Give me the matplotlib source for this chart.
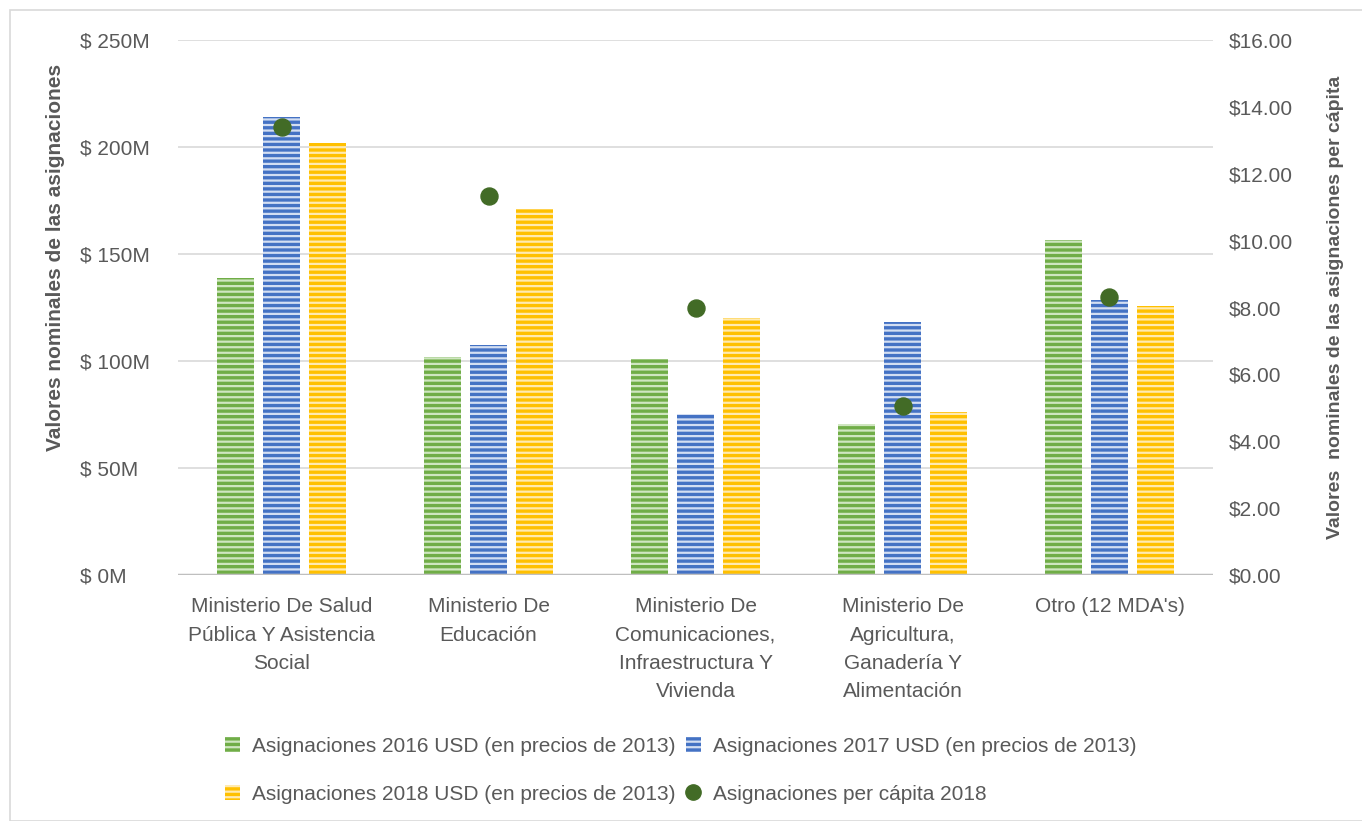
import matplotlib.pyplot as plt
import numpy as np
from matplotlib.patches import Rectangle
from matplotlib.lines import Line2D
from matplotlib.ticker import FuncFormatter

plt.rcParams['font.family'] = ['Liberation Sans', 'DejaVu Sans']
plt.rcParams['hatch.linewidth'] = 1.6

categories = [
    "Ministerio De Salud\nPública Y Asistencia\nSocial",
    "Ministerio De\nEducación",
    "Ministerio De\nComunicaciones,\nInfraestructura Y\nVivienda",
    "Ministerio De\nAgricultura,\nGanadería Y\nAlimentación",
    "Otro (12 MDA's)",
]
asig_2016 = [139, 102, 101, 70.5, 156.5]
asig_2017 = [214, 107.5, 75.3, 118, 128.7]
asig_2018 = [202, 170.8, 120, 76.3, 125.5]
per_capita_2018 = [13.4, 11.33, 8.0, 5.05, 8.31]

series = [
    ("Asignaciones 2016 USD (en precios de 2013)", asig_2016, "#70ad47", "#cfe6c0"),
    ("Asignaciones 2017 USD (en precios de 2013)", asig_2017, "#4472c4", "#d3def2"),
    ("Asignaciones 2018 USD (en precios de 2013)", asig_2018, "#ffc000", "#ffeab0"),
]
FS = 15
GREY = "#595959"

fig = plt.figure(figsize=(13.62, 8.21), dpi=100)
fig.patches.append(Rectangle((10 / 1362, 0), 1.0, 1 - 10 / 821, transform=fig.transFigure,
                             fill=False, edgecolor="#d9d9d9", linewidth=1.2))
ax = fig.add_axes([0.1307, 0.2996, 0.7599, 0.6517])
ax2 = ax.twinx()

x = np.arange(len(categories))
width = 0.178
offsets = [-0.221, 0, 0.221]
handles = []
for (label, vals, col, light), off in zip(series, offsets):
    b = ax.bar(x + off, vals, width, color=col, edgecolor=light, linewidth=0,
               hatch="---", label=label, zorder=2)
    handles.append(b)

ax2.scatter(x, per_capita_2018, s=150, color="#426b26", zorder=5,
            label="Asignaciones per cápita 2018")

ax.set_xlim(-0.5, 4.5)
ax.set_ylim(0, 250)
ax.set_yticks(np.arange(0, 251, 50))
ax.yaxis.set_major_formatter(FuncFormatter(lambda v, p: f"$ {int(v)}M"))
ax2.set_ylim(0, 16)
ax2.set_yticks(np.arange(0, 16.1, 2))
ax2.yaxis.set_major_formatter(FuncFormatter(lambda v, p: f"${v:.2f}"))

ax.grid(axis="y", color="#d9d9d9", linewidth=1.2, zorder=0)
ax.set_axisbelow(True)
for a in (ax, ax2):
    for s in ("top", "left", "right", "bottom"):
        a.spines[s].set_visible(False)
    a.tick_params(length=0, labelsize=FS, colors=GREY)
ax.axhline(0, color="#bfbfbf", linewidth=2.5, zorder=3)

# left tick labels are left-aligned in the original
ax.tick_params(axis="y", pad=98 * 0.72)
for t in ax.get_yticklabels():
    t.set_horizontalalignment("left")
ax2.tick_params(axis="y", pad=16 * 0.72)

ax.set_xticks(x)
ax.set_xticklabels(categories, fontsize=FS, color=GREY, linespacing=1.62)
ax.tick_params(axis="x", pad=16)

ax.set_ylabel("Valores nominales de las asignaciones", fontsize=FS, fontweight="bold",
              color=GREY)
ax.yaxis.set_label_coords(-0.109, 0.594)
ax2.set_ylabel("Valores  nominales de las asignaciones per cápita", fontsize=14,
               fontweight="bold", color=GREY, rotation=90)
ax2.yaxis.set_label_coords(1.11, 0.5)

leg_handles = [handles[0], handles[2], handles[1],
               Line2D([], [], marker="o", linestyle="", color="#426b26", markersize=11)]
leg_labels = [series[0][0], series[2][0], series[1][0], "Asignaciones per cápita 2018"]
fig.legend(leg_handles, leg_labels, loc="center", bbox_to_anchor=(0.5, 0.062), ncol=2,
           frameon=False, fontsize=FS, labelcolor=GREY, handlelength=0.7,
           handleheight=0.7, handletextpad=0.6, columnspacing=0.5, labelspacing=1.4)

fig.savefig("out.png", dpi=100)
